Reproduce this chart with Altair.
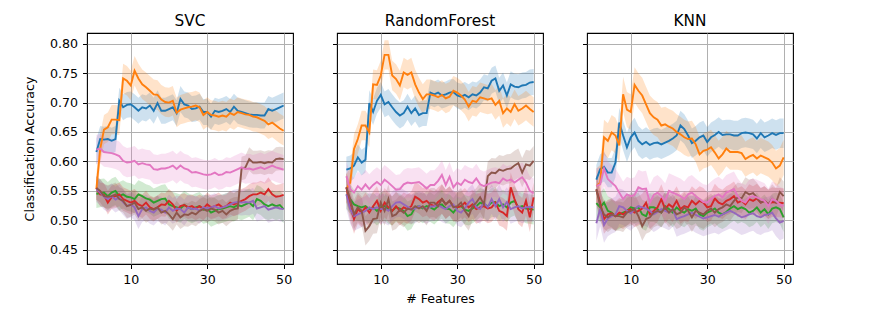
import altair as alt
import pandas as pd

x_vals = list(range(1, 51))
panels = ["SVC", "RandomForest", "KNN"]
series = ["s1", "s2", "s3", "s4", "s5", "s6", "s7"]
colors = ["#1f77b4", "#ff7f0e", "#2ca02c", "#d62728", "#9467bd", "#8c564b", "#e377c2"]
y_ticks = [0.45, 0.50, 0.55, 0.60, 0.65, 0.70, 0.75, 0.80]
x_ticks = [10, 30, 50]

# ---------------- SVC ----------------
svc_s1 = [0.616, 0.638, 0.637, 0.638, 0.635, 0.638, 0.703, 0.692, 0.696, 0.697, 0.692, 0.686, 0.692, 0.690, 0.695, 0.686, 0.699, 0.686, 0.686, 0.689, 0.692, 0.682, 0.706, 0.697, 0.695, 0.689, 0.690, 0.693, 0.684, 0.684, 0.676, 0.686, 0.684, 0.686, 0.689, 0.684, 0.693, 0.686, 0.684, 0.682, 0.680, 0.679, 0.679, 0.678, 0.678, 0.689, 0.686, 0.689, 0.692, 0.695]
svc_s2 = [0.553, 0.621, 0.654, 0.658, 0.671, 0.671, 0.670, 0.741, 0.737, 0.729, 0.754, 0.741, 0.731, 0.726, 0.720, 0.714, 0.713, 0.705, 0.701, 0.700, 0.703, 0.683, 0.688, 0.690, 0.692, 0.693, 0.695, 0.692, 0.679, 0.684, 0.679, 0.678, 0.676, 0.678, 0.676, 0.682, 0.679, 0.684, 0.682, 0.680, 0.679, 0.676, 0.675, 0.672, 0.669, 0.663, 0.666, 0.661, 0.656, 0.652]
svc_s3 = [0.545, 0.546, 0.547, 0.541, 0.547, 0.550, 0.541, 0.544, 0.540, 0.539, 0.536, 0.544, 0.541, 0.537, 0.535, 0.530, 0.533, 0.536, 0.537, 0.527, 0.524, 0.522, 0.520, 0.526, 0.522, 0.519, 0.522, 0.524, 0.518, 0.520, 0.513, 0.516, 0.519, 0.520, 0.522, 0.524, 0.522, 0.526, 0.524, 0.527, 0.530, 0.524, 0.536, 0.533, 0.527, 0.524, 0.527, 0.524, 0.526, 0.519]
svc_s4 = [0.555, 0.544, 0.543, 0.530, 0.539, 0.541, 0.544, 0.536, 0.533, 0.530, 0.533, 0.527, 0.524, 0.530, 0.522, 0.519, 0.522, 0.527, 0.526, 0.533, 0.527, 0.516, 0.524, 0.526, 0.522, 0.524, 0.520, 0.524, 0.520, 0.527, 0.522, 0.524, 0.527, 0.522, 0.524, 0.530, 0.527, 0.530, 0.533, 0.536, 0.541, 0.544, 0.544, 0.547, 0.544, 0.553, 0.544, 0.540, 0.541, 0.543]
svc_s5 = [0.553, 0.547, 0.540, 0.536, 0.541, 0.535, 0.539, 0.531, 0.524, 0.527, 0.522, 0.507, 0.519, 0.522, 0.516, 0.513, 0.520, 0.518, 0.513, 0.522, 0.516, 0.520, 0.519, 0.513, 0.522, 0.519, 0.520, 0.516, 0.522, 0.520, 0.522, 0.524, 0.520, 0.522, 0.524, 0.527, 0.530, 0.531, 0.530, 0.531, 0.530, 0.533, 0.520, 0.522, 0.524, 0.518, 0.520, 0.522, 0.520, 0.519]
svc_s6 = [0.555, 0.550, 0.541, 0.540, 0.541, 0.544, 0.536, 0.533, 0.524, 0.526, 0.530, 0.519, 0.522, 0.516, 0.520, 0.518, 0.522, 0.513, 0.516, 0.510, 0.502, 0.513, 0.505, 0.510, 0.509, 0.513, 0.510, 0.516, 0.519, 0.516, 0.520, 0.518, 0.513, 0.516, 0.510, 0.516, 0.519, 0.520, 0.588, 0.590, 0.604, 0.598, 0.598, 0.599, 0.597, 0.599, 0.598, 0.604, 0.605, 0.604]
svc_s7 = [0.620, 0.622, 0.616, 0.615, 0.614, 0.612, 0.609, 0.601, 0.598, 0.599, 0.601, 0.595, 0.597, 0.595, 0.594, 0.587, 0.586, 0.588, 0.588, 0.590, 0.593, 0.587, 0.593, 0.588, 0.586, 0.581, 0.582, 0.580, 0.578, 0.577, 0.578, 0.581, 0.577, 0.578, 0.582, 0.581, 0.584, 0.587, 0.590, 0.587, 0.588, 0.586, 0.588, 0.590, 0.587, 0.590, 0.593, 0.590, 0.588, 0.586]
svc_band = [0.022, 0.025, 0.024, 0.020, 0.022, 0.020, 0.025]

# ---------------- RandomForest ----------------
rf_s1 = [0.586, 0.588, 0.593, 0.607, 0.598, 0.603, 0.699, 0.684, 0.703, 0.713, 0.697, 0.701, 0.692, 0.684, 0.678, 0.682, 0.693, 0.682, 0.690, 0.679, 0.682, 0.682, 0.717, 0.714, 0.717, 0.712, 0.714, 0.717, 0.718, 0.712, 0.710, 0.713, 0.709, 0.714, 0.712, 0.717, 0.726, 0.724, 0.737, 0.741, 0.720, 0.729, 0.712, 0.731, 0.727, 0.726, 0.729, 0.730, 0.734, 0.735]
rf_s2 = [0.553, 0.564, 0.621, 0.638, 0.661, 0.661, 0.649, 0.731, 0.730, 0.746, 0.781, 0.781, 0.746, 0.740, 0.729, 0.751, 0.747, 0.751, 0.731, 0.717, 0.706, 0.714, 0.714, 0.712, 0.709, 0.713, 0.707, 0.710, 0.720, 0.717, 0.712, 0.705, 0.693, 0.703, 0.701, 0.709, 0.707, 0.705, 0.707, 0.696, 0.703, 0.682, 0.690, 0.684, 0.697, 0.686, 0.690, 0.695, 0.689, 0.684]
rf_s3 = [0.544, 0.536, 0.527, 0.524, 0.522, 0.524, 0.519, 0.522, 0.516, 0.522, 0.524, 0.519, 0.516, 0.522, 0.520, 0.516, 0.507, 0.510, 0.522, 0.524, 0.520, 0.524, 0.522, 0.518, 0.524, 0.527, 0.520, 0.519, 0.513, 0.522, 0.524, 0.518, 0.516, 0.520, 0.524, 0.530, 0.527, 0.524, 0.530, 0.531, 0.524, 0.527, 0.522, 0.530, 0.533, 0.522, 0.524, 0.520, 0.519, 0.518]
rf_s4 = [0.556, 0.524, 0.502, 0.519, 0.513, 0.522, 0.513, 0.524, 0.533, 0.516, 0.530, 0.522, 0.516, 0.524, 0.516, 0.522, 0.519, 0.524, 0.540, 0.536, 0.530, 0.533, 0.527, 0.524, 0.531, 0.536, 0.527, 0.533, 0.524, 0.522, 0.524, 0.530, 0.522, 0.527, 0.519, 0.522, 0.524, 0.520, 0.522, 0.530, 0.516, 0.513, 0.507, 0.556, 0.536, 0.519, 0.513, 0.533, 0.505, 0.539]
rf_s5 = [0.544, 0.519, 0.507, 0.510, 0.513, 0.516, 0.522, 0.519, 0.522, 0.519, 0.520, 0.516, 0.524, 0.530, 0.531, 0.527, 0.523, 0.519, 0.520, 0.524, 0.522, 0.519, 0.523, 0.524, 0.526, 0.522, 0.519, 0.524, 0.527, 0.516, 0.513, 0.520, 0.530, 0.536, 0.522, 0.519, 0.530, 0.522, 0.536, 0.524, 0.536, 0.522, 0.531, 0.519, 0.522, 0.524, 0.520, 0.522, 0.523, 0.522]
rf_s6 = [0.556, 0.536, 0.510, 0.522, 0.516, 0.482, 0.490, 0.502, 0.503, 0.530, 0.516, 0.536, 0.507, 0.510, 0.518, 0.513, 0.520, 0.518, 0.524, 0.520, 0.524, 0.516, 0.530, 0.530, 0.524, 0.536, 0.527, 0.533, 0.522, 0.524, 0.530, 0.516, 0.507, 0.524, 0.530, 0.539, 0.527, 0.575, 0.581, 0.580, 0.586, 0.584, 0.587, 0.588, 0.593, 0.597, 0.581, 0.595, 0.593, 0.601]
rf_s7 = [0.575, 0.553, 0.547, 0.558, 0.552, 0.561, 0.553, 0.560, 0.565, 0.560, 0.569, 0.564, 0.558, 0.552, 0.553, 0.561, 0.564, 0.563, 0.564, 0.565, 0.560, 0.554, 0.560, 0.560, 0.567, 0.577, 0.560, 0.574, 0.556, 0.564, 0.560, 0.569, 0.565, 0.563, 0.571, 0.561, 0.558, 0.561, 0.564, 0.565, 0.563, 0.571, 0.567, 0.569, 0.564, 0.569, 0.573, 0.564, 0.550, 0.546]
rf_band = [0.022, 0.025, 0.025, 0.025, 0.025, 0.025, 0.025]

# ---------------- KNN ----------------
knn_s1 = [0.569, 0.587, 0.591, 0.581, 0.581, 0.598, 0.666, 0.644, 0.624, 0.641, 0.649, 0.635, 0.629, 0.633, 0.628, 0.631, 0.632, 0.629, 0.632, 0.635, 0.639, 0.644, 0.661, 0.655, 0.644, 0.631, 0.635, 0.641, 0.644, 0.633, 0.641, 0.645, 0.650, 0.645, 0.646, 0.646, 0.644, 0.644, 0.648, 0.649, 0.648, 0.646, 0.639, 0.648, 0.641, 0.644, 0.648, 0.645, 0.648, 0.648]
knn_s2 = [0.558, 0.564, 0.641, 0.635, 0.649, 0.644, 0.627, 0.714, 0.688, 0.684, 0.730, 0.720, 0.712, 0.697, 0.682, 0.675, 0.671, 0.661, 0.663, 0.659, 0.656, 0.650, 0.646, 0.641, 0.638, 0.639, 0.629, 0.612, 0.618, 0.620, 0.624, 0.615, 0.605, 0.612, 0.622, 0.616, 0.616, 0.616, 0.614, 0.604, 0.608, 0.611, 0.605, 0.610, 0.607, 0.604, 0.598, 0.588, 0.593, 0.607]
knn_s3 = [0.529, 0.522, 0.530, 0.516, 0.513, 0.507, 0.510, 0.513, 0.516, 0.522, 0.520, 0.522, 0.510, 0.507, 0.522, 0.522, 0.519, 0.513, 0.524, 0.519, 0.513, 0.522, 0.516, 0.513, 0.519, 0.516, 0.520, 0.510, 0.507, 0.513, 0.516, 0.520, 0.513, 0.510, 0.514, 0.520, 0.524, 0.519, 0.522, 0.519, 0.513, 0.516, 0.522, 0.513, 0.519, 0.510, 0.520, 0.522, 0.519, 0.505]
knn_s4 = [0.552, 0.530, 0.502, 0.510, 0.512, 0.507, 0.513, 0.510, 0.516, 0.519, 0.513, 0.516, 0.520, 0.530, 0.510, 0.516, 0.522, 0.536, 0.519, 0.527, 0.522, 0.533, 0.519, 0.524, 0.522, 0.533, 0.527, 0.533, 0.530, 0.522, 0.524, 0.537, 0.530, 0.527, 0.533, 0.536, 0.541, 0.530, 0.533, 0.527, 0.536, 0.533, 0.537, 0.530, 0.533, 0.527, 0.531, 0.530, 0.530, 0.529]
knn_s5 = [0.495, 0.520, 0.492, 0.503, 0.507, 0.510, 0.524, 0.522, 0.516, 0.512, 0.519, 0.524, 0.522, 0.520, 0.516, 0.510, 0.514, 0.519, 0.516, 0.513, 0.519, 0.502, 0.505, 0.507, 0.510, 0.513, 0.509, 0.506, 0.503, 0.505, 0.507, 0.509, 0.506, 0.510, 0.513, 0.516, 0.513, 0.509, 0.505, 0.507, 0.510, 0.512, 0.507, 0.505, 0.509, 0.510, 0.513, 0.503, 0.496, 0.499]
knn_s6 = [0.553, 0.524, 0.510, 0.505, 0.510, 0.507, 0.507, 0.505, 0.513, 0.516, 0.519, 0.507, 0.490, 0.502, 0.505, 0.513, 0.516, 0.513, 0.522, 0.513, 0.519, 0.510, 0.513, 0.522, 0.516, 0.505, 0.516, 0.513, 0.510, 0.516, 0.520, 0.513, 0.519, 0.522, 0.527, 0.524, 0.533, 0.539, 0.537, 0.548, 0.544, 0.546, 0.539, 0.530, 0.533, 0.527, 0.536, 0.530, 0.548, 0.541]
knn_s7 = [0.558, 0.561, 0.588, 0.570, 0.564, 0.558, 0.547, 0.536, 0.544, 0.541, 0.543, 0.556, 0.553, 0.554, 0.530, 0.543, 0.547, 0.541, 0.533, 0.550, 0.547, 0.544, 0.541, 0.536, 0.544, 0.547, 0.541, 0.536, 0.531, 0.530, 0.536, 0.541, 0.544, 0.539, 0.547, 0.550, 0.553, 0.541, 0.533, 0.530, 0.539, 0.541, 0.539, 0.536, 0.533, 0.524, 0.536, 0.533, 0.527, 0.524]
knn_band = [0.025, 0.030, 0.025, 0.025, 0.030, 0.025, 0.030]

panel_data = {
    "SVC": ([svc_s1, svc_s2, svc_s3, svc_s4, svc_s5, svc_s6, svc_s7], svc_band),
    "RandomForest": ([rf_s1, rf_s2, rf_s3, rf_s4, rf_s5, rf_s6, rf_s7], rf_band),
    "KNN": ([knn_s1, knn_s2, knn_s3, knn_s4, knn_s5, knn_s6, knn_s7], knn_band),
}

rows = []
for pname, (lists, bands) in panel_data.items():
    for si, (s, vals, hw) in enumerate(zip(series, lists, bands)):
        for x, v in zip(x_vals, vals):
            rows.append({"panel": pname, "series": s, "order": si, "x": x,
                         "y": v, "lo": v - hw, "hi": v + hw})
df = pd.DataFrame(rows)

x_scale = alt.Scale(domain=[-1.45, 52.45], nice=False, zero=False)
y_scale = alt.Scale(domain=[0.4257, 0.8182], nice=False, zero=False)
color = alt.Color("series:N", scale=alt.Scale(domain=series, range=colors), legend=None)


def make_panel(i, pname):
    d = df[df["panel"] == pname]
    if i == 1:
        xax = alt.Axis(values=x_ticks, title="# Features", labelFlush=False)
    else:
        xax = alt.Axis(values=x_ticks, title=None, labelFlush=False)
    if i == 0:
        yax = alt.Axis(values=y_ticks, format=".2f", title="Classification Accuracy")
    else:
        yax = alt.Axis(values=y_ticks, labels=False, title=None)
    band = alt.Chart(d).mark_area(opacity=0.22, clip=True).encode(
        x=alt.X("x:Q", scale=x_scale, axis=xax),
        y=alt.Y("lo:Q", scale=y_scale, axis=yax),
        y2="hi:Q",
        color=color,
        detail="series:N",
    )
    line = alt.Chart(d).mark_line(strokeWidth=1.9, clip=True).encode(
        x=alt.X("x:Q", scale=x_scale, axis=xax),
        y=alt.Y("y:Q", scale=y_scale, axis=yax),
        color=color,
        order="x:Q",
    )
    return alt.layer(band, line).properties(
        width=206, height=231,
        title=alt.TitleParams(pname, fontSize=15.3, font="DejaVu Sans",
                              fontWeight="normal", color="black", offset=4),
    )


chart = alt.hconcat(*[make_panel(i, p) for i, p in enumerate(panels)], spacing=37).configure_view(
    stroke="black", strokeWidth=1.1
).configure_axis(
    grid=True, gridColor="#b0b0b0", gridWidth=1, domain=False,
    tickColor="black", tickSize=4.5, tickWidth=1,
    labelFont="DejaVu Sans", labelFontSize=12.6, labelColor="black", labelPadding=5,
    titleFont="DejaVu Sans", titleFontSize=12.6, titleFontWeight="normal", titleColor="black",
).configure_axisY(titlePadding=13).configure_axisX(titlePadding=6).properties(
    padding={"left": 14, "top": 5, "right": 5, "bottom": 5}, background="white"
)

chart.save("out.html", embed_options={"renderer": "svg", "actions": False})
